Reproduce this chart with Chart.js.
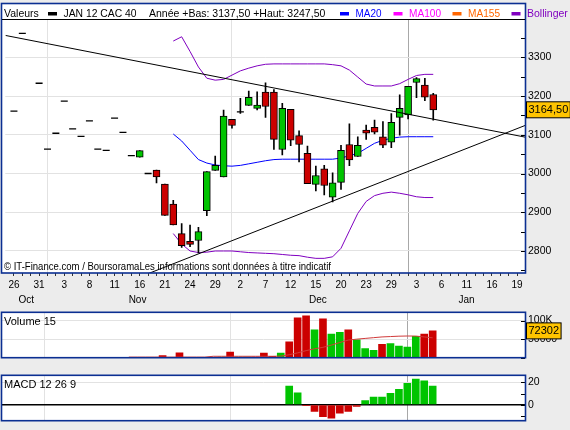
<!DOCTYPE html>
<html>
<head>
<meta charset="utf-8">
<script src="https://cdn.jsdelivr.net/npm/chart.js@4.4.1/dist/chart.umd.min.js"></script>
<style>
  html, body { margin: 0; padding: 0; background: #ececec; }
  body { position: relative; width: 570px; height: 430px; overflow: hidden; }
  canvas { position: absolute; left: 0; }
</style>
</head>
<body>
<canvas id="prix" width="570" height="310" style="top:0"></canvas>
<canvas id="volume" width="570" height="64" style="top:303px"></canvas>
<canvas id="macd" width="570" height="64" style="top:366px"></canvas>
<script>
// trading days on the time axis (day of month), 26 Oct 2011 -> 20 Jan 2012
var jours = [26, 27, 28, 31,
  1, 2, 3, 4, 7, 8, 9, 10, 11, 14, 15, 16, 17, 18, 21, 22, 23, 24, 25, 28, 29, 30,
  1, 2, 5, 6, 7, 8, 9, 12, 13, 14, 15, 16, 19, 20, 21, 22, 23, 27, 28, 29, 30,
  2, 3, 4, 5, 6, 9, 10, 11, 12, 13, 16, 17, 18, 19, 20];
var mois = ['Oct', 'Nov', 'Dec', 'Jan'];

// JAN 12 CAC 40 - daily open / high / low / close
var ouv = [3161, 3362, null, 3233, 3063, 3104, 3187, 3115, 3096, 3136, 3063, 3060, 3143, 3106, 3046,
  3042, 3000, 3009, 2973, 2921, 2845, 2825, 2827, 2904, 3008, 2991, 3140, 3159, 3176, 3168,
  3210, 3210, 3062, 3166, 3098, 3052, 2972, 3012, 2939, 2977, 3075, 3044, 3112, 3119, 3095,
  3081, 3145, 3151, 3235, 3228, 3204];
var haut = [3161, 3362, null, 3233, 3063, 3104, 3187, 3115, 3096, 3136, 3063, 3060, 3143, 3106, 3046,
  3059, 3000, 3009, 2973, 2931, 2871, 2867, 2861, 3005, 3045, 3164, 3140, 3194, 3213, 3211,
  3234, 3217, 3181, 3166, 3110, 3071, 3019, 3021, 3002, 3073, 3128, 3095, 3125, 3138, 3134,
  3155, 3203, 3225, 3247.5, 3246, 3207];
var bas = [3161, 3362, null, 3233, 3063, 3104, 3187, 3115, 3096, 3136, 3063, 3060, 3143, 3106, 3046,
  3042, 3000, 2976, 2892, 2867, 2809, 2811, 2795, 2891, 3008, 2991, 3117, 3155, 3176, 3164,
  3145, 3062, 3048, 3072, 3030, 2974, 2955, 2945, 2927, 2959, 3020, 3044, 3088, 3102, 3067,
  3067, 3099, 3141, 3196, 3188, 3137.5];
var clot = [3161, 3362, null, 3233, 3063, 3104, 3187, 3115, 3096, 3136, 3063, 3060, 3143, 3106, 3046,
  3059, 3000, 2991, 2892, 2867, 2814, 2817, 2850, 3005, 3021, 3148, 3124, 3159, 3197, 3177,
  3173, 3088, 3168, 3086, 3075, 2974, 2995, 2969, 2976, 3060, 3035, 3073, 3104, 3107, 3073,
  3132, 3168, 3225, 3245, 3197, 3164.5];

var _ = null;
var mm20 = [_, _, _, _, _, _, _, _, _, _, _, _, _, _, _, _, _, _, _,
  3102, 3084, 3060, 3036, 3027, 3022, 3020, 3019, 3021, 3025, 3029,
  3033, 3036, 3037, 3037, 3037, 3037, 3037, 3037, 3037, 3040, 3046, 3052, 3065, 3078, 3086,
  3091, 3094, 3095, 3095, 3095, 3095];
var bollSup = [_, _, _, _, _, _, _, _, _, _, _, _, _, _, _, _, _, _, _,
  3342, 3353, 3315, 3275, 3246, 3241, 3243, 3254, 3265, 3272, 3278,
  3282, 3283, 3283, 3283, 3283, 3283, 3283, 3283, 3281, 3278, 3267, 3249, 3231, 3226, 3226,
  3226, 3232, 3243, 3253, 3256, 3256];
var bollInf = [_, _, _, _, _, _, _, _, _, _, _, _, _, _, _, _, _, _, _,
  2845, 2818, 2800, 2796, 2797, 2800, 2800, 2800, 2798, 2796, 2795,
  2794, 2793, 2791, 2789, 2788, 2784, 2781, 2781, 2785, 2807, 2852, 2897, 2928, 2943, 2949,
  2952, 2949, 2945, 2940, 2938, 2938];

// trend lines: [day index, price]
var tendanceBaisse = [{x: -1, y: 3356.4}, {x: 62, y: 3089.5}];
var tendanceHausse = [{x: 16, y: 2741.5}, {x: 62, y: 3133}];

var volumes = [_, _, _, _, _, _, _, _, _, _, _, _, _, _, _, _, _, _,
  5800, _, 13400, _, _, _, _, 2000, 15000, 2000, 2000, 2000,
  12700, 3500, 12700, 42800, 107600, 113000, 75200, 105000, 63700, 68300, 75200, 48200, 24300, 19700, 35900,
  38200, 31200, 28900, 57400, 63700, 72302];
var volMoy = [_, _, _, _, _, _, _, _, _, _, _, _, _, _,
  1600, 1600, 1600, 1600, 1600, 1600, 1600, 1600, 1600, 1600, 3800, 3800, 3800, 3800, 3800, 3800,
  3800, 3800, 4200, 8000, 13000, 19000, 24000, 28000, 34000, 41000, 47500, 50000, 52000, 54000, 56000,
  57000, 58000, 58500, 58300, 56000, 53700];
var macd = [_, _, _, _, _, _, _, _, _, _, _, _, _, _, _, _, _, _, _, _, _, _, _, _, _, _, _, _, _, _, _, _, _,
  16.7, 10.6, -0.8, -5.8, -10.4, -11.9, -7.3, -5.8, -1.3, 3.8, 6.8, 6.8,
  10.1, 13.7, 19, 22.8, 21.3, 16.6];

var graduationsPrix = [];
for (var p = 2750; p <= 3350; p += 50) graduationsPrix.push(p);
var graduationsVol = [0, 25000, 50000, 75000, 100000];
var graduationsMacd = [-10, 0, 10, 20];

var police = '"Liberation Sans", Arial, sans-serif';
Chart.defaults.font.family = police;
Chart.defaults.font.size = 10;
Chart.defaults.color = '#000';
Chart.defaults.animation = false;
Chart.defaults.plugins.legend.display = false;
Chart.defaults.plugins.tooltip.enabled = false;

var ROUGE = '#cc0000', VERT = '#00c400', BLEU_CADRE = '#0b2f92';
var xMin = -1.03, xMax = 60.94;

var debutsMois = [];
for (var i = 1; i < jours.length; i++) if (jours[i] < jours[i - 1]) debutsMois.push(i);

function grilleX(ctx) {
  var v = ctx.tick ? ctx.tick.value : null;
  if (v === debutsMois[debutsMois.length - 1]) return '#a8a8a8';
  return debutsMois.indexOf(v) >= 0 ? '#e2e2e2' : 'rgba(0,0,0,0)';
}

function echelleX(avecLabels) {
  return {
    type: 'linear', min: xMin, max: xMax, offset: false,
    afterBuildTicks: function (s) {
      var t = [];
      for (var k = 0; k < jours.length; k++) if (k <= xMax) t.push({value: k});
      s.ticks = t;
    },
    afterFit: function (s) { s.height = avecLabels ? 37 : 0; },
    ticks: {
      display: avecLabels, autoSkip: false, maxRotation: 0, padding: 3, font: {size: 10},
      callback: function (v) { return v % 3 === 0 ? String(jours[v]) : ''; }
    },
    grid: { offset: false, color: grilleX, tickColor: '#333', tickLength: 3, drawTicks: avecLabels },
    border: { display: false }
  };
}

function echelleY(min, max, graduations, etiquette, couleurGrille, largeurGrille) {
  return {
    position: 'right', min: min, max: max,
    afterBuildTicks: function (s) { s.ticks = graduations.map(function (v) { return {value: v}; }); },
    afterFit: function (s) { s.width = 45; },
    ticks: { padding: 3, font: {size: 10.5}, callback: etiquette },
    grid: { drawTicks: false, color: couleurGrille, lineWidth: largeurGrille || 1 },
    border: { display: false }
  };
}

function points(serie) {
  var r = [];
  serie.forEach(function (v, k) { if (v != null) r.push({x: k, y: v}); });
  return r;
}

function boite(c, texte, y) {
  c.font = '11px ' + police;
  var w = c.measureText(texte).width + 4;
  c.fillStyle = '#ffc400';
  c.fillRect(526.5, y - 8, w, 16);
  c.strokeStyle = '#000'; c.lineWidth = 1;
  c.strokeRect(526.5, y - 8, w, 16);
  c.fillStyle = '#000'; c.textAlign = 'left'; c.textBaseline = 'middle';
  c.fillText(texte, 528.5, y + 0.5);
}

// white panel, blue frame, inner ticks, title and last value box
function cadre(opts) {
  return {
    id: 'cadre',
    beforeDraw: function (chart) {
      var a = chart.chartArea, c = chart.ctx;
      var top = opts.top != null ? opts.top : a.top;
      c.save();
      c.fillStyle = '#fff';
      c.fillRect(1, top, a.right - 1, a.bottom - top);
      c.restore();
    },
    afterDraw: function (chart) {
      var a = chart.chartArea, c = chart.ctx, y = chart.scales.y;
      var top = opts.top != null ? opts.top : a.top;
      c.save();
      c.strokeStyle = '#000'; c.lineWidth = 1;
      y.ticks.forEach(function (t) {
        var py = Math.round(y.getPixelForValue(t.value)) + 0.5;
        c.beginPath(); c.moveTo(a.right - 4, py); c.lineTo(a.right, py); c.stroke();
      });
      c.strokeStyle = BLEU_CADRE; c.lineWidth = 1.6;
      c.strokeRect(1.5, top, a.right - 1, a.bottom - top);
      if (opts.titre) {
        c.fillStyle = '#000'; c.font = '11px ' + police;
        c.textAlign = 'left'; c.textBaseline = 'middle';
        c.fillText(opts.titre, 4, a.top + 10);
      }
      if (opts.extra) opts.extra(chart, c);
      if (opts.derniere != null) boite(c, opts.texte, y.getPixelForValue(opts.derniere));
      c.restore();
    }
  };
}

function enTete(chart, c) {
  var a = chart.chartArea;
  c.strokeStyle = '#000'; c.lineWidth = 1;
  c.beginPath(); c.moveTo(2, 19.5); c.lineTo(a.right, 19.5); c.stroke();
  c.font = '10.5px ' + police; c.textBaseline = 'middle'; c.textAlign = 'left';
  var items = [
    ['Valeurs', 4, 36, '#000', null],
    ['JAN 12 CAC 40', 63.5, 73, '#000', '#000'],
    ['Année +Bas: 3137,50 +Haut: 3247,50', 149, 177, '#000', null],
    ['MA20', 355.5, 26, '#0000ff', '#0000ff'],
    ['MA100', 409, 32, '#ff00ff', '#ff00ff'],
    ['MA155', 468, 32, '#ff6600', '#ff6600'],
    ['Bollinger', 527, 42, '#8000c0', '#8000c0']
  ];
  items.forEach(function (it) {
    if (it[4]) { c.fillStyle = it[4]; c.fillRect(it[1] - 15.5, 12, 9, 3.5); }
    c.fillStyle = it[3];
    c.fillText(it[0], it[1], 14, it[2]);
  });
  // month names under the day labels
  var x = chart.scales.x;
  var bornes = [xMin].concat(debutsMois.map(function (d) { return d - 0.5; })).concat([xMax]);
  c.fillStyle = '#000'; c.font = '10px ' + police; c.textAlign = 'center';
  mois.forEach(function (m, k) {
    var px = (x.getPixelForValue(bornes[k]) + x.getPixelForValue(bornes[k + 1])) / 2 + 2;
    c.fillText(m, px, 300);
  });
  c.textAlign = 'left'; c.font = '11px ' + police;
  c.fillText('© IT-Finance.com / BoursoramaLes informations sont données à titre indicatif', 4, 266.5, 327);
}

// ---- price chart ----
var corps = [], couleursCorps = [], meches = [], tirets = [];
for (var j = 0; j < ouv.length; j++) {
  if (ouv[j] == null) continue;
  if (haut[j] > bas[j]) meches.push({x: j, y: [bas[j], haut[j]]});
  if (ouv[j] !== clot[j]) {
    corps.push({x: j, y: [ouv[j], clot[j]]});
    couleursCorps.push(clot[j] > ouv[j] ? VERT : ROUGE);
  } else {
    tirets.push({x: j, y: clot[j]});
  }
}

new Chart(document.getElementById('prix'), {
  type: 'bar',
  data: {
    datasets: [
      {type: 'line', data: tendanceBaisse, borderColor: '#000', borderWidth: 1, pointRadius: 0, order: 0},
      {type: 'line', data: tendanceHausse, borderColor: '#000', borderWidth: 1, pointRadius: 0, order: 0},
      {type: 'line', data: tirets, showLine: false, pointStyle: 'line', pointRadius: 3.5,
        borderColor: '#000', pointBorderWidth: 1.3, order: 1},
      {type: 'bar', data: corps, backgroundColor: couleursCorps, borderColor: '#000', borderWidth: 1,
        borderSkipped: false, barThickness: 7, grouped: false, order: 2},
      {type: 'bar', data: meches, backgroundColor: '#000', barThickness: 1, grouped: false, order: 3},
      {type: 'line', data: points(mm20), borderColor: '#0000ff', borderWidth: 1, pointRadius: 0, order: 4},
      {type: 'line', data: points(bollSup), borderColor: '#8000c0', borderWidth: 1, pointRadius: 0, order: 5},
      {type: 'line', data: points(bollInf), borderColor: '#8000c0', borderWidth: 1, pointRadius: 0, order: 5}
    ]
  },
  options: {
    responsive: false,
    layout: {padding: {left: 2, top: 19.5, right: 0, bottom: 0}},
    scales: {
      x: echelleX(true),
      y: echelleY(2743.2, 3397.6, graduationsPrix,
        function (v) { return v % 100 === 0 ? String(v) : ''; },
        function (ctx) { return ctx.tick && ctx.tick.value % 100 === 0 ? '#e2e2e2' : 'rgba(0,0,0,0)'; })
    }
  },
  plugins: [cadre({top: 3.5, extra: enTete, derniere: clot[clot.length - 1], texte: '3164,50'})]
});

// ---- volume ----
var barresVol = [], couleursVol = [];
volumes.forEach(function (v, k) {
  if (v == null) return;
  barresVol.push({x: k, y: v});
  couleursVol.push(clot[k] >= clot[k - 1] ? VERT : ROUGE);
});

new Chart(document.getElementById('volume'), {
  type: 'bar',
  data: {
    datasets: [
      {type: 'line', data: points(volMoy), borderColor: '#d03a3a', borderWidth: 1, pointRadius: 0, order: 0},
      {type: 'bar', data: barresVol, backgroundColor: couleursVol, barThickness: 7, grouped: false, order: 1}
    ]
  },
  options: {
    responsive: false,
    layout: {padding: {left: 2, top: 5.5, right: 0, bottom: 5}},
    scales: {
      x: echelleX(false),
      y: echelleY(0, 122400, graduationsVol,
        function (v) { return v === 100000 ? '100K' : (v === 50000 ? '50000' : ''); },
        function (ctx) { return ctx.tick && (ctx.tick.value === 50000 || ctx.tick.value === 100000) ? '#e2e2e2' : 'rgba(0,0,0,0)'; })
    }
  },
  plugins: [cadre({titre: 'Volume 15', derniere: volumes[volumes.length - 1], texte: '72302'})]
});

// ---- MACD ----
var barresMacd = [], couleursMacd = [];
macd.forEach(function (v, k) {
  if (v == null) return;
  barresMacd.push({x: k, y: v});
  couleursMacd.push(v >= 0 ? VERT : ROUGE);
});

new Chart(document.getElementById('macd'), {
  type: 'bar',
  data: {
    datasets: [
      {type: 'bar', data: barresMacd, backgroundColor: couleursMacd, barThickness: 7, grouped: false}
    ]
  },
  options: {
    responsive: false,
    layout: {padding: {left: 2, top: 3.5, right: 0, bottom: 7.5}},
    scales: {
      x: echelleX(false),
      y: echelleY(-14.07, 26.2, graduationsMacd,
        function (v) { return v === 20 || v === 0 ? String(v) : ''; },
        function (ctx) {
          if (!ctx.tick) return 'rgba(0,0,0,0)';
          if (ctx.tick.value === 0) return '#000';
          return ctx.tick.value === 20 ? '#e2e2e2' : 'rgba(0,0,0,0)';
        },
        function (ctx) { return ctx.tick && ctx.tick.value === 0 ? 1.6 : 1; })
    }
  },
  plugins: [cadre({titre: 'MACD 12 26 9'})]
});
</script>
</body>
</html>
